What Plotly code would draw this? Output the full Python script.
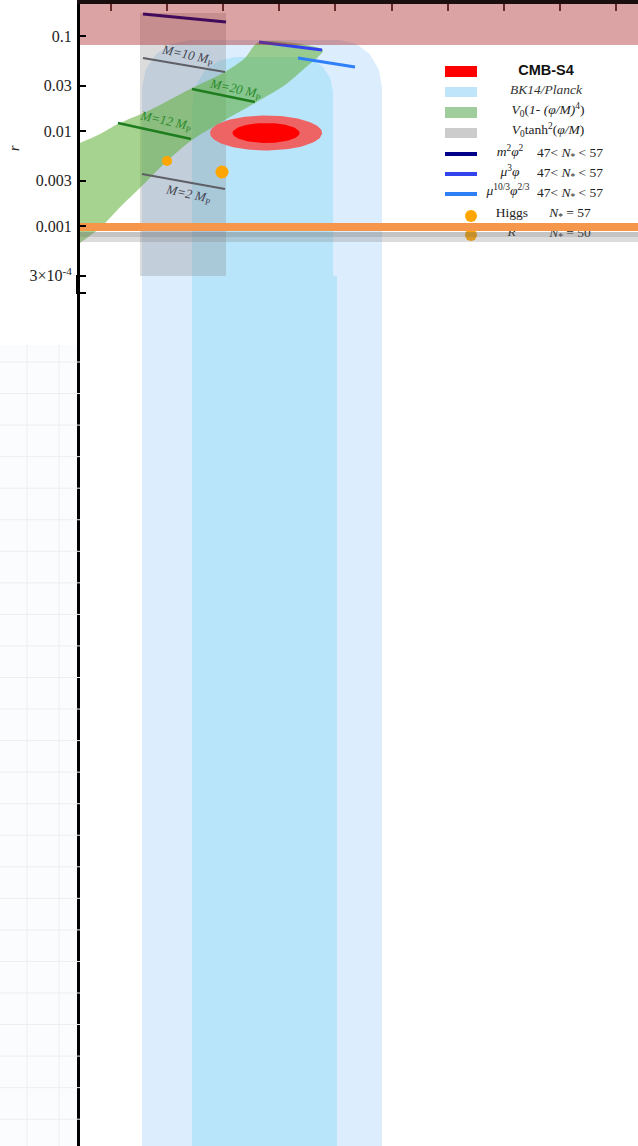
import numpy as np
import plotly.graph_objects as go

# ---------------- data: spectral index n_s vs tensor-to-scalar ratio r ----------------
ns_ticks = [0.95, 0.955, 0.96, 0.965, 0.97, 0.975, 0.98, 0.985, 0.99, 0.995]
r_tick_vals = [0.1, 0.03, 0.01, 0.003, 0.001, 3e-4, 1.97e-4]
r_tick_text = ["0.1", "0.03", "0.01", "0.003", "0.001", "3×10<sup>-4</sup>", ""]

# BK14/Planck 2-sigma (light) and 1-sigma (dark) allowed regions (open towards tiny r)
bk2_ns = [0.95276, 0.95276, 0.95309, 0.95402, 0.95540, 0.95704, 0.97041, 0.97185, 0.97306, 0.97387, 0.97415, 0.97415]
bk2_r = [1e-14, 0.02836, 0.04428, 0.06450, 0.08295, 0.09077, 0.09077, 0.08295, 0.06450, 0.04428, 0.02836, 1e-14]
bk1_ns = [0.95722, 0.95722, 0.95751, 0.95834, 0.95958, 0.96105, 0.96685, 0.96797, 0.96892, 0.96956, 0.96979, 0.96979, 0.97014, 0.97014]
bk1_r = [1e-14, 0.01878, 0.02934, 0.04271, 0.05495, 0.06009, 0.06009, 0.05629, 0.04683, 0.03561, 0.02573, 0.000298, 0.000298, 1e-14]

# V0 tanh^2(phi/M) region
tanh_ns = [0.95258, 0.96025]
tanh_r = [0.000298, 0.1746]

# V0 (1-(phi/M)^4) band: upper edge (left->right) then lower edge (right->left)
quartic_upper_ns = [0.94590, 0.94724, 0.94902, 0.95062, 0.95348, 0.95722, 0.96016, 0.96194, 0.96319, 0.96890]
quartic_upper_r = [0.00631, 0.00747, 0.00930, 0.01185, 0.01663, 0.02836, 0.04179, 0.05867, 0.08646, 0.07122]
quartic_lower_ns = [0.96845, 0.96729, 0.96551, 0.96283, 0.96016, 0.95722, 0.95481, 0.95276, 0.95080, 0.94902, 0.94724, 0.94617]
quartic_lower_r = [0.06009, 0.04603, 0.03049, 0.01971, 0.01305, 0.00804, 0.00460, 0.00264, 0.00158, 0.000953, 0.000662, 0.00052]

# CMB-S4 forecast ellipses: centre and semi-axes (delta n_s, delta log10 r)
cmbs4_center_ns = 0.96382
cmbs4_center_r = 0.00953
cmbs4_outer_axes = [0.00499, 0.184]
cmbs4_inner_axes = [0.00299, 0.105]

# monomial models, 47 < N* < 57
m2phi2_ns = [0.95285, 0.96025]
m2phi2_r = [0.1704, 0.1404]
mu3phi_ns = [0.96319, 0.96881]
mu3phi_r = [0.08646, 0.07122]
mu103_ns = [0.96667, 0.97175]
mu103_r = [0.05867, 0.04717]

# constant-M lines
tanh_M_names = ["M=10", "M=2"]
tanh_M_ns = [[0.95285, 0.96016], [0.95276, 0.96016]]
tanh_M_r = [[0.05867, 0.04179], [0.003526, 0.00245]]
tanh_label_ns = [0.95686, 0.95686]
tanh_label_r = [0.0631, 0.00217]
quartic_M_names = ["M=12", "M=20"]
quartic_M_ns = [[0.95062, 0.95713], [0.95722, 0.96283]]
quartic_M_r = [[0.01214, 0.00823], [0.02767, 0.0202]]
quartic_label_ns = [0.95490, 0.96114]
quartic_label_r = [0.01244, 0.02767]

# Higgs / R^2 points
higgs_ns = [0.95499, 0.95989]
higgs_r = [0.00483, 0.00370]
higgs_size = [10, 13]

excluded_r_min = 0.0804          # top shaded exclusion
orange_band_r = [0.000886, 0.001075]
grey_band_r = [0.000679, 0.000865]

# ---------------- layout helpers (pixel -> axis) ----------------
NS_PER_PX = 0.005 / 56.1
def ns_at(px):
    return 0.95 + (px - 111) * NS_PER_PX

def r_at(py):
    return 10 ** (-1 - (py - 36) / 95.0)

def px_paper(px):
    return (px - 80) / 558.0

def py_paper(py):
    return (1146 - py) / 1142.0

X0, X1 = ns_at(80), ns_at(638)
SERIF = "Liberation Serif"

fig = go.Figure()

def poly(xs, ys, color, spline=False):
    fig.add_trace(go.Scatter(x=xs, y=ys, mode="lines", fill="toself", fillcolor=color,
                             line=dict(width=0, shape="spline" if spline else "linear", smoothing=0.8),
                             hoverinfo="skip", showlegend=False))

def seg(xs, ys, color, width):
    fig.add_trace(go.Scatter(x=xs, y=ys, mode="lines", line=dict(color=color, width=width),
                             hoverinfo="skip", showlegend=False))

# BK14/Planck
poly(bk2_ns, bk2_r, "#dcedfd")
poly(bk1_ns, bk1_r, "#b9e5fb")
# tanh region
poly([tanh_ns[0], tanh_ns[1], tanh_ns[1], tanh_ns[0]],
     [tanh_r[0], tanh_r[0], tanh_r[1], tanh_r[1]], "rgba(128,128,128,0.28)")
# quartic band
poly(quartic_upper_ns + quartic_lower_ns, quartic_upper_r + quartic_lower_r,
     "rgba(95,175,55,0.55)", spline=True)

# CMB-S4 ellipses
t = np.linspace(0, 2 * np.pi, 120)
for axes, col in [(cmbs4_outer_axes, "#ee6464"), (cmbs4_inner_axes, "#ff0000")]:
    ex = cmbs4_center_ns + axes[0] * np.cos(t)
    ey = 10 ** (np.log10(cmbs4_center_r) + axes[1] * np.sin(t))
    poly(list(ex), list(ey), col)

# constant-M lines
for xs, ys in zip(tanh_M_ns, tanh_M_r):
    seg(xs, ys, "#5f5f66", 2.2)
for xs, ys in zip(quartic_M_ns, quartic_M_r):
    seg(xs, ys, "#1e7d1e", 2.5)

# monomial models
seg(m2phi2_ns, m2phi2_r, "#000088", 3.2)
seg(mu3phi_ns, mu3phi_r, "#3344ee", 3.2)
seg(mu103_ns, mu103_r, "#2f7ff7", 3.2)

# Higgs points
fig.add_trace(go.Scatter(x=higgs_ns, y=higgs_r, mode="markers",
                         marker=dict(color="#ffa500", size=higgs_size, line=dict(width=0), opacity=1),
                         hoverinfo="skip", showlegend=False))

# ---------------- custom legend ----------------
def swatch(py0, py1, color):
    poly([ns_at(445), ns_at(477), ns_at(477), ns_at(445)],
         [r_at(py1), r_at(py1), r_at(py0), r_at(py0)], color)

swatch(66, 77, "#ff0000")
swatch(87, 97, "#bfe5fb")
swatch(107, 118, "#9fce9c")
swatch(128, 138, "#cccccc")
for py, col in [(154, "#000088"), (174, "#3344ee"), (194, "#2f7ff7")]:
    seg([ns_at(445), ns_at(477)], [r_at(py), r_at(py)], col, 4)
fig.add_trace(go.Scatter(x=[ns_at(471), ns_at(471)], y=[r_at(216), r_at(235)], mode="markers",
                         marker=dict(color="#ffa500", size=12, line=dict(width=0)),
                         hoverinfo="skip", showlegend=False))

def legtext(px, py, txt, family=SERIF, size=13.5, color="#222222"):
    fig.add_trace(go.Scatter(x=[ns_at(px)], y=[r_at(py)], mode="text", text=[txt],
                             textposition="middle center",
                             textfont=dict(family=family, size=size, color=color),
                             hoverinfo="skip", showlegend=False))

legtext(546, 71, "<b>CMB-S4</b>", family="Liberation Sans", size=14.5, color="#111111")
legtext(546, 91, "<i>BK14/Planck</i>", color="#333333")
legtext(548, 111, "<i>V</i><sub>0</sub>(<i>1- (φ/M)</i><sup>4</sup>)")
legtext(548, 131, "<i>V</i><sub>0</sub>tanh<sup>2</sup>(<i>φ/M</i>)")
legtext(510, 153, "<i>m</i><sup>2</sup><i>φ</i><sup>2</sup>")
legtext(570, 154, "47< <i>N</i><sub>*</sub> < 57")
legtext(510, 173, "<i>μ</i><sup>3</sup><i>φ</i>")
legtext(570, 174, "47< <i>N</i><sub>*</sub> < 57")
legtext(508, 192, "<i>μ</i><sup>10/3</sup><i>φ</i><sup>2/3</sup>")
legtext(570, 194, "47< <i>N</i><sub>*</sub> < 57")
legtext(512, 214, "Higgs")
legtext(570, 214, "<i>N</i><sub>*</sub> = 57")
legtext(514, 233, "<i>R</i><sup>2</sup>")
legtext(570, 234, "<i>N</i><sub>*</sub> = 50")

# ---------------- horizontal bands and exclusion ----------------
XL, XR = X0 - 0.01, X1 + 0.01
poly([XL, XR, XR, XL], [grey_band_r[0], grey_band_r[0], grey_band_r[1], grey_band_r[1]], "rgba(128,128,128,0.28)")
poly([XL, XR, XR, XL], [r_at(237), r_at(237), grey_band_r[1], grey_band_r[1]], "rgba(90,90,90,0.18)")
poly([XL, XR, XR, XL], [orange_band_r[0], orange_band_r[0], orange_band_r[1], orange_band_r[1]], "#f6964b")
poly([XL, XR, XR, XL], [excluded_r_min, excluded_r_min, 10, 10], "rgba(165,25,25,0.40)")

# ---------------- annotations (M labels, axis title) ----------------
ann = []
for nm, x, y, col in zip(tanh_M_names + quartic_M_names,
                         tanh_label_ns + quartic_label_ns,
                         tanh_label_r + quartic_label_r,
                         ["#444450", "#444450", "#2a8a2a", "#2a8a2a"]):
    ann.append(dict(x=x, y=np.log10(y), xref="x", yref="y", showarrow=False, textangle=12,
                    xanchor="center", yanchor="middle",
                    text="<i>%s M</i><sub>P</sub>" % nm,
                    font=dict(family=SERIF, size=13, color=col)))
ann.append(dict(x=px_paper(15), y=py_paper(148), xref="paper", yref="paper", showarrow=False,
                xanchor="center", yanchor="middle",
                textangle=-90, text="<i>r</i>", font=dict(family=SERIF, size=14, color="#222")))

# ---------------- decoration shapes (faint grid at left, axis bracket) ----------------
shapes = []
grid_col = "#eeeef0"
shapes.append(dict(type="rect", xref="paper", yref="paper", x0=px_paper(0), x1=px_paper(78),
                   y0=py_paper(1146), y1=py_paper(345), fillcolor="#fafcfe", line=dict(width=0), layer="below"))
for gx in [27, 59]:
    shapes.append(dict(type="line", xref="paper", yref="paper", x0=px_paper(gx), x1=px_paper(gx),
                       y0=py_paper(1146), y1=py_paper(345), line=dict(color=grid_col, width=1)))
gy = 362.0
while gy < 1146:
    shapes.append(dict(type="line", xref="paper", yref="paper", x0=px_paper(0), x1=px_paper(80),
                       y0=py_paper(gy), y1=py_paper(gy), line=dict(color=grid_col, width=1)))
    gy += 31.55
# bracket at the lower end of the original axis
shapes.append(dict(type="line", xref="paper", yref="paper", x0=px_paper(77), x1=px_paper(77),
                   y0=py_paper(276), y1=py_paper(293), line=dict(color="black", width=2)))
for by in [276, 293]:
    shapes.append(dict(type="line", xref="paper", yref="paper", x0=px_paper(76), x1=px_paper(80),
                       y0=py_paper(by), y1=py_paper(by), line=dict(color="black", width=2)))

fig.update_layout(
    template="none", width=638, height=1146,
    margin=dict(l=80, r=0, t=4, b=0, pad=0),
    paper_bgcolor="white", plot_bgcolor="white", showlegend=False,
    annotations=ann, shapes=shapes,
)
fig.update_xaxes(range=[X0, X1], side="top", showline=True, linecolor="#1a0d0d", linewidth=4,
                 ticks="inside", ticklen=7, tickwidth=2, tickcolor="#6b2a2a", tickvals=ns_ticks,
                 showticklabels=False, showgrid=False, zeroline=False, automargin=False)
fig.update_yaxes(type="log", range=[np.log10(r_at(1146)), np.log10(r_at(4))], showline=True,
                 linecolor="black", linewidth=3, ticks="inside", ticklen=6, tickwidth=2,
                 tickcolor="black", tickvals=r_tick_vals, ticktext=r_tick_text,
                 tickfont=dict(family=SERIF, size=16, color="#222222"), ticklabelstandoff=2,
                 showgrid=False, zeroline=False, automargin=False)

fig.write_html("out.html")
